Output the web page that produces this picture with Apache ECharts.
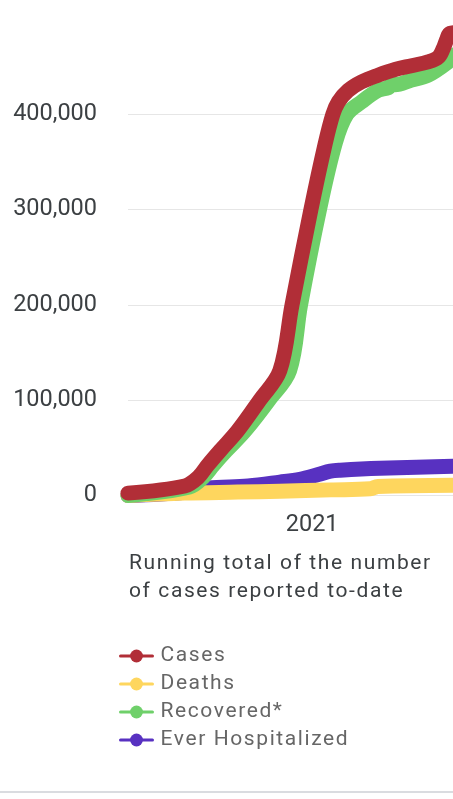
<!DOCTYPE html>
<html>
<head>
<meta charset="utf-8">
<script src="https://cdn.jsdelivr.net/npm/echarts@6/dist/echarts.min.js"></script>
<style>
html,body{margin:0;padding:0;background:#fff;}
#chart{width:453px;height:799px;}
</style>
</head>
<body>
<div id="chart"></div>
<script>
// ---- data ----
var seriesNames = ['Cases', 'Deaths', 'Recovered*', 'Ever Hospitalized'];
var yTicks = [0, 100000, 200000, 300000, 400000];
var xTickYear = '2021';

var casesData = [
  ['2020-03-05', 2500], ['2020-06-06', 10000], ['2020-06-28', 19000], ['2020-07-14', 32000],
  ['2020-08-03', 47000], ['2020-09-01', 68000], ['2020-10-07', 100000], ['2020-11-09', 131000],
  ['2020-11-29', 200000], ['2020-12-30', 300000], ['2021-01-22', 368000], ['2021-02-04', 400000],
  ['2021-02-13', 413000], ['2021-03-01', 425000], ['2021-03-23', 434000], ['2021-04-19', 441000],
  ['2021-05-17', 447000], ['2021-06-13', 451000], ['2021-07-10', 455000], ['2021-07-27', 460000],
  ['2021-08-04', 469000], ['2021-08-10', 479000], ['2021-08-15', 485000], ['2021-08-31', 486000]
];
var deathsData = [
  ['2020-03-05', 0], ['2020-06-06', 2500], ['2020-09-01', 3600], ['2020-11-09', 4500],
  ['2021-02-01', 5900], ['2021-04-06', 7000], ['2021-04-19', 9500], ['2021-08-31', 10800]
];
var recoveredData = [
  ['2020-03-05', 0], ['2020-06-14', 9000], ['2020-07-06', 19000], ['2020-07-23', 32000],
  ['2020-08-13', 47000], ['2020-09-13', 68000], ['2020-10-22', 100000], ['2020-11-25', 131000],
  ['2020-12-13', 200000], ['2021-01-13', 300000], ['2021-02-08', 370000], ['2021-02-27', 400000],
  ['2021-03-23', 413000], ['2021-04-19', 425000], ['2021-05-06', 428000], ['2021-05-12', 432000],
  ['2021-05-17', 431000], ['2021-06-13', 436000], ['2021-07-10', 441000], ['2021-08-12', 455000],
  ['2021-08-20', 461000], ['2021-08-31', 465000]
];
var hospitalizedData = [
  ['2020-03-05', 0], ['2020-06-06', 3500], ['2020-07-14', 7800], ['2020-09-18', 10000],
  ['2020-11-09', 14000], ['2020-12-12', 17000], ['2021-01-11', 22000], ['2021-01-31', 25500],
  ['2021-02-16', 26500], ['2021-04-22', 28500], ['2021-08-20', 30700], ['2021-08-31', 31000]
];

var colors = ['#b12e37', '#fed65e', '#6fd06a', '#5831c1'];
var FONT = 'Roboto, "Noto Sans", sans-serif';

var chart = echarts.init(document.getElementById('chart'), null, {renderer: 'canvas'});

// title and legend live on their own canvas layer, drawn with a little letter spacing
try {
  var layer = chart.getZr().painter.getLayer(1);
  if (layer && layer.ctx) { layer.ctx.letterSpacing = '1.6px'; }
} catch (e) {}

function mkSeries(name, data, color, z) {
  return {
    name: name, type: 'line', data: data, z: z,
    symbol: 'circle', symbolSize: 12, showSymbol: false,
    smooth: 0.35,
    color: color,
    lineStyle: {width: 15, color: color, cap: 'round', join: 'round'},
    emphasis: {disabled: true},
    animation: false
  };
}

chart.setOption({
  animation: false,
  color: colors,
  title: {
    zlevel: 1,
    text: 'Running total of the number\nof cases reported to-date',
    left: 129, top: 550, padding: 0,
    textStyle: {fontFamily: FONT, fontSize: 21, fontWeight: 'normal', color: '#3c4043', lineHeight: 28}
  },
  legend: {
    zlevel: 1,
    orient: 'vertical', left: 119, top: 645, padding: 0,
    itemWidth: 32, itemHeight: 16, itemGap: 6,
    data: seriesNames,
    lineStyle: {width: 3},
    textStyle: {fontFamily: FONT, fontSize: 21, color: '#666666', lineHeight: 22, padding: [0, 0, 0, 3]},
    selectedMode: false
  },
  grid: {left: 128, right: 0, top: 19, bottom: 303.5, containLabel: false},
  xAxis: {
    type: 'time',
    min: '2020-03-05', max: '2021-08-20',
    axisLine: {show: false}, axisTick: {show: false}, splitLine: {show: false},
    axisLabel: {
      fontFamily: FONT, fontSize: 23.5, color: '#3c4043', margin: 18,
      formatter: function (v) {
        var d = new Date(v);
        return (d.getMonth() === 0 && d.getDate() === 1 && String(d.getFullYear()) === xTickYear) ? xTickYear : '';
      }
    }
  },
  yAxis: {
    type: 'value', min: 0, max: 500000, interval: 100000,
    axisLine: {show: false}, axisTick: {show: false},
    splitLine: {lineStyle: {color: ['#e6e6e6', '#e6e6e6', '#e6e6e6', '#e6e6e6', '#e6e6e6', 'transparent'], width: 1}},
    axisLabel: {
      fontFamily: FONT, fontSize: 23.5, color: '#3c4043', margin: 31,
      formatter: function (v) {
        return yTicks.indexOf(v) >= 0 ? v.toLocaleString('en-US') : '';
      }
    }
  },
  graphic: [{
    type: 'rect', left: 0, top: 791, shape: {width: 453, height: 2},
    style: {fill: '#dadce0'}, silent: true
  }],
  series: [
    mkSeries(seriesNames[0], casesData, colors[0], 5),
    mkSeries(seriesNames[1], deathsData, colors[1], 3),
    mkSeries(seriesNames[2], recoveredData, colors[2], 4),
    mkSeries(seriesNames[3], hospitalizedData, colors[3], 2)
  ]
});
</script>
</body>
</html>
